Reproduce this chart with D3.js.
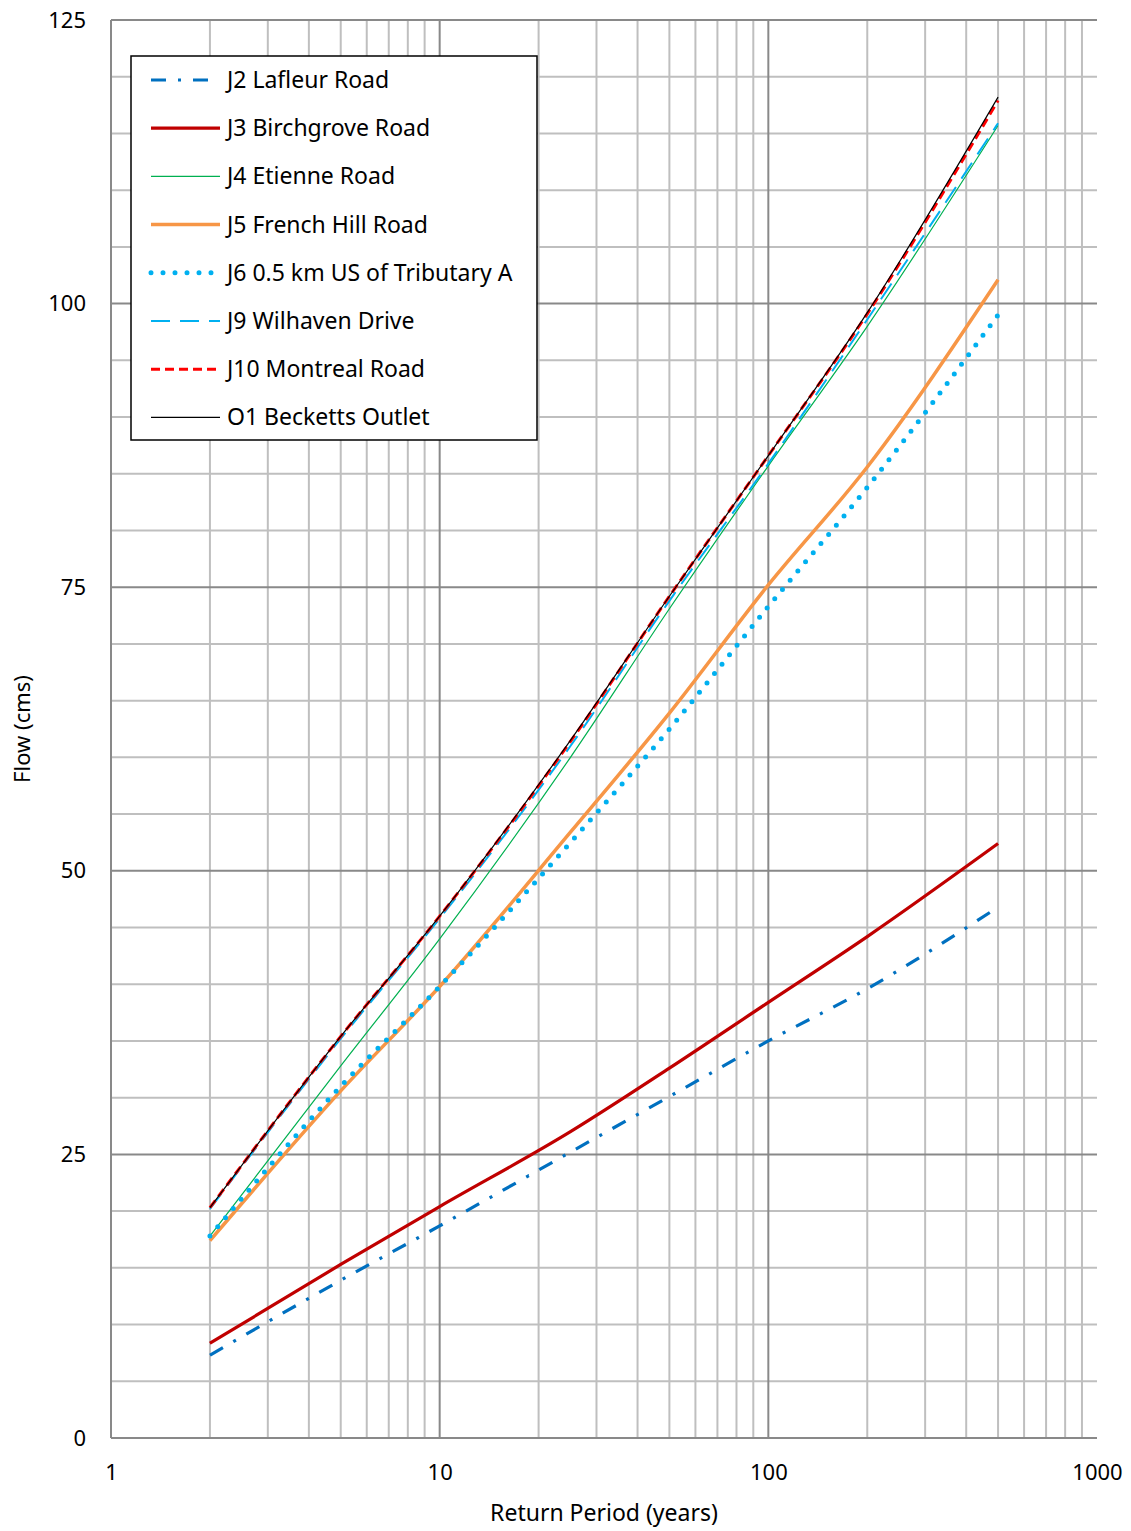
<!DOCTYPE html>
<html>
<head>
<meta charset="utf-8">
<script src="https://cdn.jsdelivr.net/npm/d3@7"></script>
<style>
  body { margin: 0; background: #fff; }
  text { font-family: "Noto Sans", "Open Sans", sans-serif; fill: #000; }
</style>
</head>
<body>
<svg id="chart" width="1131" height="1531"></svg>
<script>
// return periods (years) at which flows were read
var periods = [2, 5, 10, 25, 50, 100, 200, 500];

var j2Lafleur     = [7.3, 13.9, 18.7, 25.2, 30.1, 35.0, 39.6, 46.8];
var j3Birchgrove  = [8.35, 15.3, 20.4, 27.0, 32.6, 38.4, 44.2, 52.4];
var j4Etienne     = [17.8, 32.8, 44.0, 60.0, 73.1, 85.7, 98.0, 115.7];
var j5FrenchHill  = [17.4, 30.6, 39.8, 53.4, 63.9, 75.2, 85.6, 102.1];
var j6Tributary   = [17.8, 31.0, 39.8, 52.5, 62.5, 73.3, 83.8, 99.0];
var j9Wilhaven    = [20.2, 35.2, 45.8, 61.0, 73.8, 85.9, 98.6, 115.9];
var j10Montreal   = [20.3, 35.4, 46.0, 61.4, 74.2, 86.6, 99.1, 117.9];
var o1Becketts    = [20.3, 35.4, 46.0, 61.5, 74.2, 86.6, 99.2, 118.2];

var xTickLabels = [1, 10, 100, 1000];
var yTickLabels = [0, 25, 50, 75, 100, 125];

var series = [
  { name: 'J2 Lafleur Road', values: j2Lafleur, color: '#0070C0', width: 3.2, dash: '15,12,3,12' },
  { name: 'J3 Birchgrove Road', values: j3Birchgrove, color: '#C00000', width: 3.2, dash: null },
  { name: 'J4 Etienne Road', values: j4Etienne, color: '#00B050', width: 1.2, dash: null },
  { name: 'J5 French Hill Road', values: j5FrenchHill, color: '#F79646', width: 3.5, dash: null },
  { name: 'J6 0.5 km US of Tributary A', values: j6Tributary, color: '#00B0F0', width: 5, dash: '0,12', cap: 'round' },
  { name: 'J9 Wilhaven Drive', values: j9Wilhaven, color: '#00B0F0', width: 2, dash: '19,10' },
  { name: 'J10 Montreal Road', values: j10Montreal, color: '#FF0000', width: 3, dash: '9,5' },
  { name: 'O1 Becketts Outlet', values: o1Becketts, color: '#000000', width: 1.2, dash: null }
];

var margin = { top: 20, right: 34, bottom: 93, left: 111 };
var w = 1131, h = 1531;
var width = w - margin.left - margin.right;
var height = h - margin.top - margin.bottom;

var svg = d3.select('#chart');
var graph = svg.append('g')
  .attr('transform', 'translate(' + margin.left + ',' + margin.top + ')');

var x = d3.scaleLog().domain([1, 1000]).range([0, width]);
var y = d3.scaleLinear().domain([0, 125]).range([height, 0]);

// minor grid
var minorX = [];
[1, 10, 100].forEach(function (d) {
  for (var k = 2; k <= 9; k++) minorX.push(d * k);
});
var minorY = d3.range(5, 125, 5).filter(function (v) { return v % 25 !== 0; });

graph.selectAll('.minor-x').data(minorX).enter().append('line')
  .attr('x1', function (d) { return x(d); }).attr('x2', function (d) { return x(d); })
  .attr('y1', 0).attr('y2', height)
  .attr('stroke', '#BFBFBF').attr('stroke-width', 2);

graph.selectAll('.minor-y').data(minorY).enter().append('line')
  .attr('y1', function (d) { return y(d); }).attr('y2', function (d) { return y(d); })
  .attr('x1', 0).attr('x2', width)
  .attr('stroke', '#BFBFBF').attr('stroke-width', 2);

// major grid
graph.selectAll('.major-x').data([10, 100]).enter().append('line')
  .attr('x1', function (d) { return x(d); }).attr('x2', function (d) { return x(d); })
  .attr('y1', 0).attr('y2', height)
  .attr('stroke', '#898989').attr('stroke-width', 2);

graph.selectAll('.major-y').data([25, 50, 75, 100, 125]).enter().append('line')
  .attr('y1', function (d) { return y(d); }).attr('y2', function (d) { return y(d); })
  .attr('x1', 0).attr('x2', width)
  .attr('stroke', '#898989').attr('stroke-width', 2);

// axes lines
graph.append('line').attr('x1', 0).attr('x2', 0).attr('y1', 0).attr('y2', height)
  .attr('stroke', '#898989').attr('stroke-width', 2);
graph.append('line').attr('x1', 0).attr('x2', width).attr('y1', height).attr('y2', height)
  .attr('stroke', '#898989').attr('stroke-width', 2);

// tick labels
var xAxis = d3.axisBottom(x).tickValues(xTickLabels).tickSize(0).tickPadding(26)
  .tickFormat(d3.format('d'));
var yAxis = d3.axisLeft(y).tickValues(yTickLabels).tickSize(0).tickPadding(25);

var gx = graph.append('g').attr('transform', 'translate(0,' + height + ')').call(xAxis);
var gy = graph.append('g').call(yAxis);
[gx, gy].forEach(function (g) {
  g.select('.domain').remove();
  g.selectAll('text').style('font-size', '22px').attr('fill', '#000');
});

// axis titles
svg.append('text')
  .attr('x', margin.left + width / 2).attr('y', 1521)
  .attr('text-anchor', 'middle').style('font-size', '23px')
  .text('Return Period (years)');

svg.append('text')
  .attr('transform', 'translate(30,' + (margin.top + height / 2) + ') rotate(-90)')
  .attr('text-anchor', 'middle').style('font-size', '22px')
  .text('Flow (cms)');

// series
var line = d3.line()
  .x(function (d) { return x(d[0]); })
  .y(function (d) { return y(d[1]); })
  .curve(d3.curveMonotoneX);

series.forEach(function (s) {
  var pts = periods.map(function (p, i) { return [p, s.values[i]]; });
  graph.append('path')
    .datum(pts)
    .attr('d', line)
    .attr('fill', 'none')
    .attr('stroke', s.color)
    .attr('stroke-width', s.width)
    .attr('stroke-dasharray', s.dash)
    .attr('stroke-linecap', s.cap || 'butt');
});

// legend
var legend = svg.append('g').attr('transform', 'translate(131,56)');
legend.append('rect')
  .attr('width', 406).attr('height', 384)
  .attr('fill', '#fff').attr('stroke', '#000').attr('stroke-width', 1.5);

var item = legend.selectAll('.item').data(series).enter().append('g')
  .attr('transform', function (d, i) { return 'translate(0,' + (24 + i * 48.2) + ')'; });

item.append('line')
  .attr('x1', 20).attr('x2', 89).attr('y1', 0).attr('y2', 0)
  .attr('stroke', function (d) { return d.color; })
  .attr('stroke-width', function (d) { return d.width; })
  .attr('stroke-dasharray', function (d) { return d.dash; })
  .attr('stroke-linecap', function (d) { return d.cap || 'butt'; });

item.append('text')
  .attr('x', 96).attr('y', 8)
  .style('font-size', '23px')
  .text(function (d) { return d.name; });
</script>
</body>
</html>
